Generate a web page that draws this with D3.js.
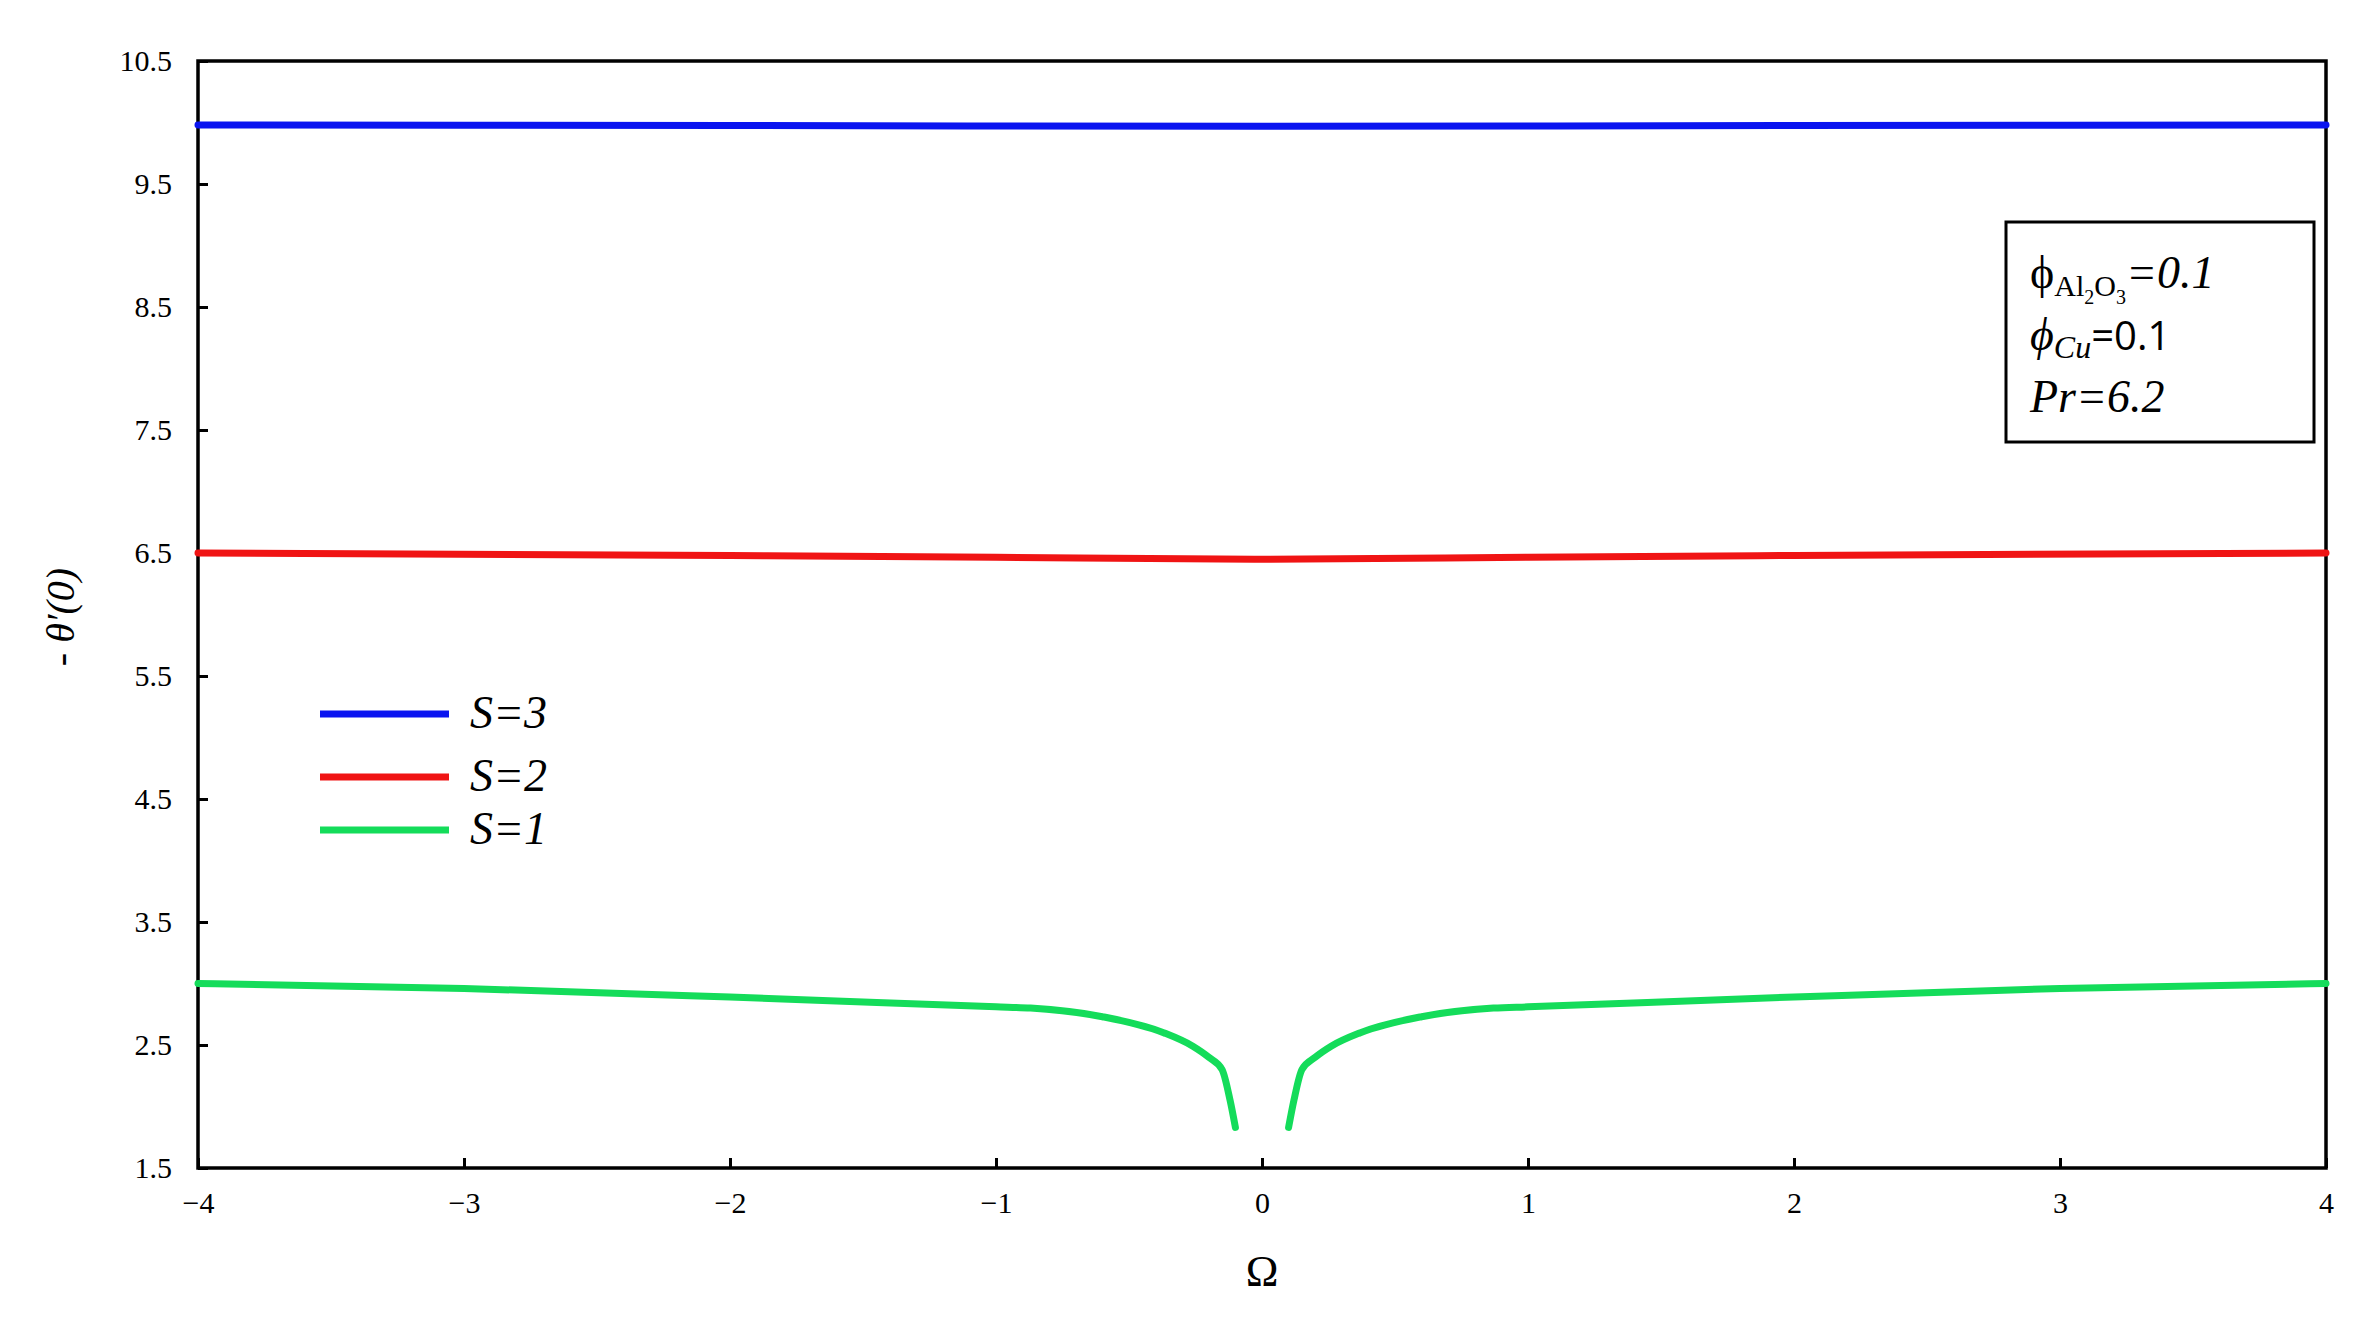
<!DOCTYPE html>
<html>
<head>
<meta charset="utf-8">
<script src="https://cdn.jsdelivr.net/npm/d3@7"></script>
<style>
  body { margin: 0; background: #fff; }
  text { font-family: "Liberation Serif", "DejaVu Serif", serif; }
</style>
</head>
<body>
<svg id="chart" width="2379" height="1340"></svg>
<script>
// data
const xTicks = [-4, -3, -2, -1, 0, 1, 2, 3, 4];
const yTicks = [1.5, 2.5, 3.5, 4.5, 5.5, 6.5, 7.5, 8.5, 9.5, 10.5];

const s3 = [[-4, 9.98], [-2, 9.975], [0, 9.97], [2, 9.975], [4, 9.98]];
const s2 = [[-4, 6.5], [-2, 6.48], [-1, 6.465], [0, 6.45], [1, 6.465], [2, 6.48], [4, 6.5]];
const s1Left = [[-4, 3.0], [-3, 2.96], [-2, 2.89], [-1, 2.81], [-0.87, 2.8], [-0.6, 2.73],
  [-0.37, 2.6], [-0.26, 2.49], [-0.2, 2.4], [-0.15, 2.3], [-0.12, 2.05], [-0.1, 1.83]];
const s1Right = s1Left.map(d => [-d[0], d[1]]).reverse();

const series = [
  { name: "S=3", color: "#0a14f0", parts: [s3] },
  { name: "S=2", color: "#f01414", parts: [s2] },
  { name: "S=1", color: "#14dc5a", parts: [s1Left, s1Right] }
];

const svg = d3.select("#chart");
const margin = { top: 61, right: 53, bottom: 172, left: 198 };
const width = 2379 - margin.left - margin.right;
const height = 1340 - margin.top - margin.bottom;
const g = svg.append("g").attr("transform", `translate(${margin.left},${margin.top})`);

const xScale = d3.scaleLinear().domain([-4, 4]).range([0, width]);
const yScale = d3.scaleLinear().domain([1.5, 10.5]).range([height, 0]);

// axes: ticks point inward
const xAxis = d3.axisBottom(xScale).tickValues(xTicks).tickSize(-10).tickPadding(24).tickFormat(d3.format("d"));
const yAxis = d3.axisLeft(yScale).tickValues(yTicks).tickSize(-10).tickPadding(26).tickFormat(d3.format(".1f"));

g.append("g").attr("transform", `translate(0,${height})`).call(xAxis)
  .call(a => a.select(".domain").remove());
g.append("g").call(yAxis).call(a => a.select(".domain").remove());
g.selectAll(".tick line").attr("stroke", "#000").attr("stroke-width", 3);
g.selectAll(".tick text").attr("font-size", 30).attr("fill", "#000")
  .attr("font-family", "Liberation Serif");

g.append("rect").attr("width", width).attr("height", height)
  .attr("fill", "none").attr("stroke", "#000").attr("stroke-width", 3.5);

const line = d3.line().curve(d3.curveMonotoneX)
  .x(d => xScale(d[0])).y(d => yScale(d[1]));

series.forEach(s => {
  s.parts.forEach(p => {
    g.append("path").attr("d", line(p)).attr("fill", "none")
      .attr("stroke", s.color).attr("stroke-width", 7).attr("stroke-linecap", "round");
  });
});

// legend
const leg = svg.append("g");
const legY = [714, 777, 830];
series.forEach((s, i) => {
  leg.append("line").attr("x1", 320).attr("x2", 449).attr("y1", legY[i]).attr("y2", legY[i])
    .attr("stroke", s.color).attr("stroke-width", 7);
  leg.append("text").attr("x", 470).attr("y", legY[i] + 14).attr("font-size", 46)
    .attr("font-style", "italic").text(s.name);
});

// parameter box
svg.append("rect").attr("x", 2006).attr("y", 222).attr("width", 308).attr("height", 220)
  .attr("fill", "#fff").attr("stroke", "#000").attr("stroke-width", 3);
const t1 = svg.append("text").attr("x", 2030).attr("y", 288).attr("font-size", 46);
t1.append("tspan").text("ϕ");
t1.append("tspan").attr("font-size", 30).attr("dy", 8).text("Al");
t1.append("tspan").attr("font-size", 20).attr("dy", 8).text("2");
t1.append("tspan").attr("font-size", 30).attr("dy", -8).text("O");
t1.append("tspan").attr("font-size", 20).attr("dy", 8).text("3");
t1.append("tspan").attr("dy", -16).attr("font-style", "italic").text("=0.1");
const t2 = svg.append("text").attr("x", 2030).attr("y", 350).attr("font-size", 46);
t2.append("tspan").attr("font-style", "italic").text("ϕ");
t2.append("tspan").attr("font-size", 32).attr("dy", 8).attr("font-style", "italic").text("Cu");
t2.append("tspan").attr("dy", -8).attr("font-family", "Open Sans").attr("font-size", 40).text("=0.1");
svg.append("text").attr("x", 2030).attr("y", 412).attr("font-size", 46)
  .attr("font-style", "italic").text("Pr=6.2");

// axis titles
svg.append("text").attr("transform", "translate(74,617) rotate(-90)")
  .attr("text-anchor", "middle").attr("font-size", 40).attr("font-style", "italic")
  .attr("font-family", "Open Sans").text("- θ′(0)");
svg.append("text").attr("x", margin.left + xScale(0)).attr("y", 1286)
  .attr("text-anchor", "middle").attr("font-size", 44).text("Ω");
</script>
</body>
</html>
